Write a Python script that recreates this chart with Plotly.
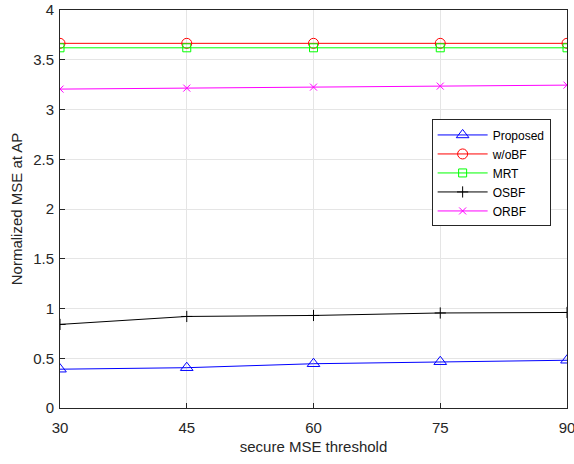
import plotly.graph_objects as go

x = [30, 45, 60, 75, 90]
proposed = [0.39, 0.405, 0.445, 0.465, 0.48]
wobf = [3.665, 3.665, 3.665, 3.665, 3.665]
mrt = [3.62, 3.62, 3.62, 3.62, 3.62]
osbf = [0.84, 0.92, 0.93, 0.955, 0.96]
orbf = [3.205, 3.215, 3.225, 3.235, 3.245]

series = [
    ("Proposed", proposed, "#0000ff", "triangle-up-open", 11),
    ("w/oBF", wobf, "#ff0000", "circle-open", 10),
    ("MRT", mrt, "#00ff00", "square-open", 8),
    ("OSBF", osbf, "#000000", "cross-thin-open", 8),
    ("ORBF", orbf, "#ff00ff", "x-thin-open", 7),
]

fig = go.Figure()
for name, y, c, sym, sz in series:
    fig.add_trace(go.Scatter(
        x=x, y=y, name=name, mode="lines+markers",
        line=dict(color=c, width=1),
        marker=dict(symbol=sym, size=sz, color=c, line=dict(color=c, width=1)),
    ))

axis_common = dict(
    showline=True, linecolor="#262626", linewidth=1, mirror=True,
    ticks="inside", ticklen=5, tickcolor="#262626",
    showgrid=True, gridcolor="#e5e5e5", gridwidth=1,
    zeroline=False, automargin=False, ticklabeloverflow="allow",
    tickfont=dict(family="Liberation Sans, Arial", size=15, color="#262626"),
)

fig.update_layout(
    width=574, height=464,
    margin=dict(l=60, r=7, t=10, b=56),
    plot_bgcolor="white", paper_bgcolor="white",
    font=dict(family="Liberation Sans, Arial", color="#262626"),
    xaxis=dict(range=[30, 90], tickvals=x, ticklabelstandoff=6,
               title=dict(text="secure MSE threshold", font=dict(size=15), standoff=6),
               **axis_common),
    yaxis=dict(range=[0, 4], tickvals=[0, 0.5, 1, 1.5, 2, 2.5, 3, 3.5, 4],
               ticktext=["0", "0.5", "1", "1.5", "2", "2.5", "3", "3.5", "4"],
               ticklabelstandoff=2,
               title=dict(text="Normalized MSE at AP", font=dict(size=15), standoff=6),
               **axis_common),
    legend=dict(x=0.733, y=0.725, xanchor="left", yanchor="top",
                bordercolor="#262626", borderwidth=1, bgcolor="white",
                font=dict(size=12, color="#000000"), tracegroupgap=0,
                itemwidth=50),
    showlegend=True,
)

fig.write_html("out.html")
